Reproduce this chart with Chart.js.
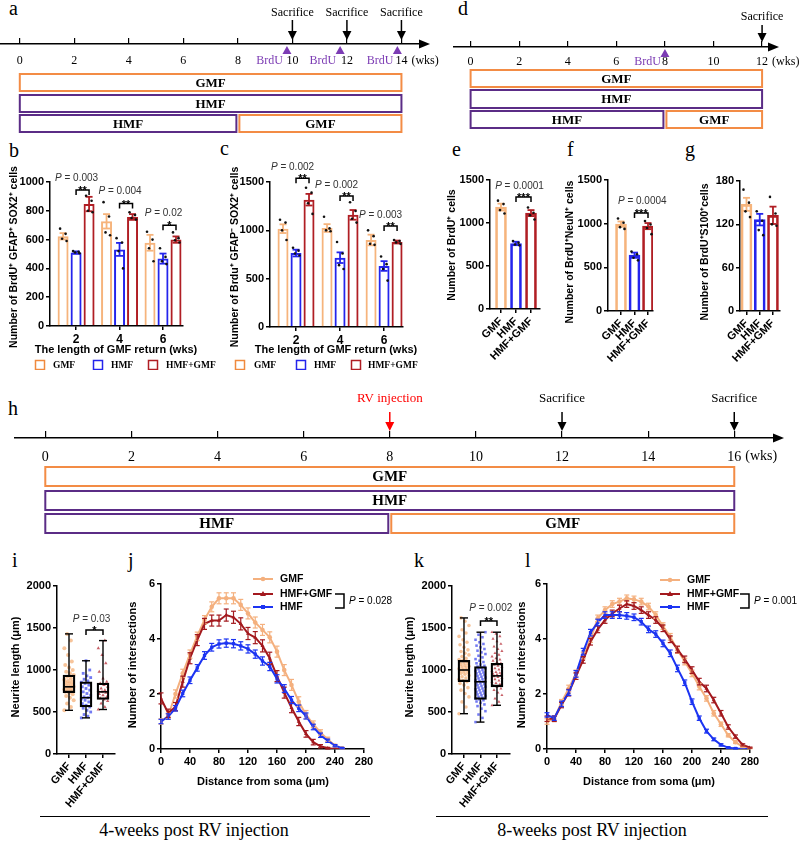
<!DOCTYPE html>
<html><head><meta charset="utf-8"><title>Figure</title>
<script src="https://cdn.jsdelivr.net/npm/chart.js@4.4.1/dist/chart.umd.min.js"></script>
<style>
html,body{margin:0;padding:0;background:#fff;}
body{position:relative;width:799px;height:842px;overflow:hidden;}
canvas{position:absolute;}
.pl{position:absolute;font-family:"Times New Roman","Liberation Serif",serif;font-size:20px;line-height:20px;color:#000;}
.cap{position:absolute;font-family:"Times New Roman","Liberation Serif",serif;font-size:18px;line-height:18px;color:#000;white-space:nowrap;transform:translateX(-50%);}
.hl{position:absolute;height:0;border-top:1.5px solid #000;}
</style></head><body>
<div class="pl" style="left:9px;top:-2px">a</div>
<div class="pl" style="left:458px;top:-2px">d</div>
<div class="pl" style="left:9px;top:140px">b</div>
<div class="pl" style="left:220px;top:138px">c</div>
<div class="pl" style="left:452px;top:139px">e</div>
<div class="pl" style="left:567px;top:139px">f</div>
<div class="pl" style="left:685px;top:139px">g</div>
<div class="pl" style="left:8px;top:398px">h</div>
<div class="pl" style="left:12px;top:550px">i</div>
<div class="pl" style="left:128px;top:550px">j</div>
<div class="pl" style="left:414px;top:550px">k</div>
<div class="pl" style="left:525px;top:550px">l</div>
<div class="hl" style="left:40px;top:816px;width:330px"></div>
<div class="hl" style="left:436px;top:816px;width:332px"></div>
<div class="cap" style="left:194px;top:821px">4-weeks post RV injection</div>
<div class="cap" style="left:592px;top:821px">8-weeks post RV injection</div>
<script>
// ======================= DATA =======================
const groups = ['GMF', 'HMF', 'HMF+GMF'];

// timelines (weeks)
const tlA_ticks = [0, 2, 4, 6, 8, 10, 12, 14];
const tlA_sacrifice = [10, 12, 14];
const tlA_brdu = [9.8, 11.75, 13.85];
const tlA_rows = [[['GMF', 0, 14]], [['HMF', 0, 14]], [['HMF', 0, 8], ['GMF', 8, 14]]];
const tlD_ticks = [0, 2, 4, 6, 8, 10, 12];
const tlD_sacrifice = [12];
const tlD_brdu = [8];
const tlD_rows = [[['GMF', 0, 12]], [['HMF', 0, 12]], [['HMF', 0, 8], ['GMF', 8, 12]]];
const tlH_ticks = [0, 2, 4, 6, 8, 10, 12, 14, 16];
const tlH_sacrifice = [12, 16];
const tlH_rv = [8];
const tlH_rows = [[['GMF', 0, 16]], [['HMF', 0, 16]], [['HMF', 0, 8], ['GMF', 8, 16]]];

// panel b
const bcWeeks = [2, 4, 6];
const bGMF = [623, 727, 578], bGMFsem = [22, 50, 55];
const bHMF = [510, 532, 468], bHMFsem = [8, 45, 35];
const bMIX = [847, 757, 600], bMIXsem = [50, 20, 22];
const bGMFdots = [[676, 640, 606, 590], [860, 760, 650, 630], [655, 600, 540, 450]];
const bHMFdots = [[520, 515, 510, 505], [610, 580, 520, 400], [540, 480, 450, 430]];
const bMIXdots = [[905, 870, 800, 790], [790, 770, 750, 740], [650, 610, 595, 580]];
const bSigY = [945, 850, 700], bSigP = ['0.003', '0.004', '0.02'], bSigS = ['**', '**', '*'];

// panel c
const cGMF = [1017, 1024, 900], cGMFsem = [45, 40, 55];
const cHMF = [765, 717, 631], cHMFsem = [35, 55, 50];
const cMIX = [1317, 1160, 879], cMIXsem = [60, 50, 15];
const cGMFdots = [[1110, 1080, 1000, 900], [1140, 1020, 1000, 990], [1000, 940, 860, 850]];
const cHMFdots = [[820, 790, 760, 740], [880, 760, 640, 600], [730, 650, 600, 480]];
const cMIXdots = [[1440, 1390, 1280, 1170], [1290, 1200, 1120, 1080], [900, 890, 875, 860]];
const cSigY = [1540, 1355, 1045], cSigP = ['0.002', '0.002', '0.003'], cSigS = ['**', '**', '**'];

// panels e, f, g (GMF, HMF, HMF+GMF)
const eVal = [1185, 762, 1115], eSem = [40, 20, 35];
const eDots = [[1260, 1220, 1150, 1110], [790, 770, 750, 740], [1180, 1120, 1090, 1040]];
const eSigY = 1302, eSigP = '0.0001', eSigS = '***';
const fVal = [995, 639, 972], fSem = [30, 30, 35];
const fDots = [[1060, 1010, 960, 940], [680, 650, 610, 580], [1030, 990, 950, 880]];
const fSigY = 1122, fSigP = '0.0004', fSigS = '***';
const gVal = [147.7, 126.5, 132.5], gSem = [9, 8, 12];
const gDots = [[168, 150, 138, 130], [138, 125, 112, 105], [158, 135, 120, 118]];

// panel i box stats [min, q1, median, q3, max]
const iStats = [[520, 730, 800, 940, 1430], [430, 560, 670, 860, 1110], [530, 650, 740, 845, 1350]];
const iGMFpts = [520, 560, 600, 640, 670, 690, 710, 730, 740, 750, 760, 770, 780, 790, 800, 805, 815, 825, 840, 850, 860, 870, 885, 900, 920, 940, 960, 980, 1000, 1030, 1060, 1100, 1180, 1260, 1350, 1430];
const iHMFpts = [430, 450, 470, 500, 520, 545, 560, 580, 600, 620, 640, 655, 670, 680, 700, 720, 740, 760, 780, 800, 820, 840, 855, 870, 890, 910, 930, 960, 1000, 1110];
const iMIXpts = [530, 560, 600, 630, 650, 665, 680, 700, 715, 730, 740, 750, 760, 780, 800, 820, 840, 860, 900, 980, 1080, 1180, 1260, 1350];
const iSigY = 1475, iSigP = '0.03', iSigS = '*';

// panel k
const kStats = [[480, 860, 1000, 1115, 1620], [380, 650, 860, 1040, 1450], [580, 800, 930, 1080, 1450]];
const kGMFpts = [480, 560, 620, 680, 720, 760, 790, 820, 840, 860, 875, 890, 905, 920, 935, 950, 960, 970, 980, 990, 1000, 1005, 1015, 1025, 1035, 1045, 1055, 1065, 1075, 1085, 1095, 1105, 1115, 1125, 1140, 1160, 1180, 1200, 1220, 1240, 1270, 1300, 1330, 1360, 1400, 1440, 1480, 1530, 1580, 1620];
const kHMFpts = [380, 430, 470, 510, 540, 570, 590, 610, 625, 640, 650, 660, 670, 680, 690, 700, 710, 720, 730, 740, 750, 760, 770, 780, 790, 800, 810, 820, 830, 840, 850, 860, 870, 880, 890, 900, 910, 920, 930, 940, 950, 960, 970, 980, 990, 1000, 1010, 1020, 1030, 1040, 1050, 1065, 1080, 1095, 1110, 1130, 1150, 1170, 1190, 1210, 1230, 1250, 1270, 1290, 1310, 1330, 1360, 1390, 1420, 1450];
const kMIXpts = [580, 620, 660, 700, 730, 760, 780, 800, 815, 830, 845, 860, 875, 890, 905, 915, 925, 935, 945, 955, 965, 975, 990, 1005, 1020, 1035, 1050, 1065, 1080, 1095, 1110, 1125, 1140, 1160, 1180, 1200, 1225, 1250, 1280, 1310, 1340, 1370, 1400, 1430, 1450];
const kSigY = 1583, kSigP = '0.002', kSigS = '**';

// panel j (Sholl, 4 weeks)
const jDist = [0, 10, 20, 30, 40, 50, 60, 70, 80, 90, 100, 110, 120, 130, 140, 150, 160, 170, 180, 190, 200, 210, 220, 230, 240, 250];
const jGMF = [1.0, 1.2, 2.0, 2.75, 3.45, 4.1, 4.7, 5.17, 5.48, 5.48, 5.48, 5.24, 4.93, 4.6, 4.33, 4.06, 3.54, 2.87, 2.33, 1.72, 1.25, 0.9, 0.6, 0.35, 0.12, 0.03];
const jGMFsem = [0.1, 0.1, 0.15, 0.15, 0.15, 0.15, 0.15, 0.18, 0.2, 0.2, 0.2, 0.2, 0.2, 0.2, 0.2, 0.2, 0.2, 0.2, 0.2, 0.18, 0.15, 0.12, 0.1, 0.08, 0.05, 0.03];
const jMIX = [1.84, 1.3, 1.54, 2.45, 3.3, 3.96, 4.55, 4.67, 4.67, 4.87, 4.79, 4.55, 4.2, 4.05, 3.75, 3.3, 2.65, 2.05, 1.5, 1.0, 0.55, 0.25, 0.1, 0.03, 0.0, 0.0];
const jMIXsem = [0.2, 0.15, 0.15, 0.2, 0.2, 0.2, 0.2, 0.2, 0.2, 0.22, 0.22, 0.22, 0.22, 0.22, 0.22, 0.22, 0.2, 0.2, 0.18, 0.15, 0.12, 0.1, 0.06, 0.03, 0.0, 0.0];
const jHMF = [1.0, 1.18, 1.48, 2.02, 2.5, 2.95, 3.4, 3.7, 3.82, 3.85, 3.83, 3.75, 3.64, 3.45, 3.2, 3.0, 2.55, 2.2, 1.78, 1.48, 1.2, 0.8, 0.5, 0.3, 0.12, 0.03];
const jHMFsem = [0.08, 0.1, 0.1, 0.12, 0.12, 0.12, 0.14, 0.14, 0.15, 0.15, 0.15, 0.15, 0.15, 0.15, 0.15, 0.15, 0.15, 0.14, 0.13, 0.12, 0.11, 0.1, 0.08, 0.06, 0.04, 0.02];

// panel l (Sholl, 8 weeks)
const lDist = [0, 10, 20, 30, 40, 50, 60, 70, 80, 90, 100, 110, 120, 130, 140, 150, 160, 170, 180, 190, 200, 210, 220, 230, 240, 250, 260, 270, 280];
const lGMF = [1.0, 1.1, 1.7, 2.2, 2.75, 3.4, 4.0, 4.75, 5.05, 5.27, 5.36, 5.48, 5.44, 5.36, 5.18, 4.87, 4.47, 4.08, 3.6, 3.18, 2.75, 2.27, 1.84, 1.3, 0.9, 0.5, 0.25, 0.08, 0.03];
const lGMFsem = [0.1, 0.1, 0.1, 0.12, 0.12, 0.12, 0.12, 0.12, 0.12, 0.12, 0.12, 0.12, 0.12, 0.12, 0.12, 0.12, 0.12, 0.12, 0.12, 0.12, 0.12, 0.12, 0.1, 0.1, 0.08, 0.06, 0.05, 0.03, 0.02];
const lMIX = [1.1, 1.1, 1.6, 2.05, 2.65, 3.24, 3.9, 4.35, 4.69, 4.93, 5.11, 5.27, 5.2, 5.05, 4.87, 4.69, 4.39, 3.99, 3.62, 3.26, 2.87, 2.45, 2.2, 1.78, 1.3, 0.8, 0.45, 0.15, 0.05];
const lMIXsem = [0.1, 0.1, 0.1, 0.12, 0.12, 0.12, 0.12, 0.12, 0.12, 0.12, 0.12, 0.12, 0.12, 0.12, 0.12, 0.12, 0.12, 0.12, 0.12, 0.12, 0.12, 0.12, 0.12, 0.1, 0.1, 0.08, 0.06, 0.04, 0.02];
const lHMF = [1.24, 1.12, 1.64, 2.05, 2.73, 3.54, 4.23, 4.6, 4.87, 4.87, 4.87, 4.84, 4.79, 4.63, 4.35, 4.18, 3.84, 3.48, 2.93, 2.41, 1.72, 1.12, 0.65, 0.35, 0.15, 0.05, 0.02, 0.0, 0.0];
const lHMFsem = [0.08, 0.08, 0.1, 0.1, 0.12, 0.12, 0.12, 0.12, 0.12, 0.12, 0.12, 0.12, 0.12, 0.12, 0.12, 0.12, 0.12, 0.12, 0.12, 0.1, 0.1, 0.08, 0.07, 0.05, 0.04, 0.03, 0.02, 0.0, 0.0];

// ======================= STYLE =======================
const SANS = 'Arial, "Liberation Sans", Helvetica, sans-serif';
const SERIF = '"Times New Roman", "Liberation Serif", Times, serif';
const C_GMF = '#F6B47C', C_HMF = '#2424EC', C_MIX = '#B01E24';
const C_LG_GMF = '#F08A3E';
const C_TLG = '#F38C45', C_TLH = '#5B2C86', C_BRDU = '#7C3CB4';
const C_LINE_GMF = '#F4B07E', C_LINE_MIX = '#A3191E', C_LINE_HMF = '#1C34F2';
Chart.defaults.font.family = SANS;

// ======================= HELPERS =======================
function mk(l, t, w, h) {
  const c = document.createElement('canvas');
  c.width = w; c.height = h;
  c.style.left = l + 'px'; c.style.top = t + 'px';
  c.style.width = w + 'px'; c.style.height = h + 'px';
  document.body.appendChild(c);
  return c;
}
function txt(ctx, s, x, y, font, color, align, rot, base) {
  ctx.save(); ctx.translate(x, y); if (rot) ctx.rotate(rot);
  ctx.font = font; ctx.fillStyle = color || '#000';
  ctx.textAlign = align || 'center'; ctx.textBaseline = base || 'middle';
  ctx.fillText(s, 0, 0); ctx.restore();
}
function pTxt(ctx, val, cx, cy, size, color, align) {
  const fi = 'italic ' + size + 'px ' + SANS, fn = size + 'px ' + SANS, rest = ' = ' + val;
  ctx.save();
  ctx.font = fi; const w1 = ctx.measureText('P').width;
  ctx.font = fn; const w2 = ctx.measureText(rest).width;
  const x0 = align === 'left' ? cx : cx - (w1 + w2) / 2;
  txt(ctx, 'P', x0, cy, fi, color || '#333', 'left');
  txt(ctx, rest, x0 + w1, cy, fn, color || '#333', 'left');
  ctx.restore();
}
function line(ctx, pts, c, w) {
  ctx.save(); ctx.strokeStyle = c; ctx.lineWidth = w; ctx.beginPath();
  ctx.moveTo(pts[0][0], pts[0][1]);
  for (let i = 1; i < pts.length; i++) ctx.lineTo(pts[i][0], pts[i][1]);
  ctx.stroke(); ctx.restore();
}
function arrowDown(ctx, x, y1, y2, c) {
  ctx.save(); ctx.strokeStyle = c; ctx.fillStyle = c; ctx.lineWidth = 1.5;
  ctx.beginPath(); ctx.moveTo(x, y1); ctx.lineTo(x, y2 - 7); ctx.stroke();
  ctx.beginPath(); ctx.moveTo(x - 4.5, y2 - 9); ctx.lineTo(x + 4.5, y2 - 9); ctx.lineTo(x, y2); ctx.closePath(); ctx.fill();
  ctx.restore();
}
function bracket(ctx, x1, x2, y, stars, p, pdx, pdy) {
  line(ctx, [[x1, y + 5], [x1, y], [x2, y], [x2, y + 5]], '#000', 1.5);
  txt(ctx, stars, (x1 + x2) / 2, y + 4, 'bold 11px ' + SANS, '#000', 'center', 0, 'alphabetic');
  if (p) pTxt(ctx, p, (x1 + x2) / 2 + pdx, y + pdy, 10);
}
function yLin(x1, min, max, step) {
  return { type: 'linear', position: 'left', bounds: 'data', offset: false, min, max, afterFit: s => { s.width = x1; },
    ticks: { stepSize: step, font: { family: SANS, size: 11, weight: 'bold' }, color: '#000', padding: 2, callback: v => String(v) },
    grid: { drawOnChartArea: false, drawTicks: true, tickLength: 4, color: '#000', lineWidth: 1.5, offset: false },
    border: { display: true, color: '#000', width: 1.5 } };
}
function xLin(H, y2, min, max, ticks, labels, rot, fs) {
  return { type: 'linear', position: 'bottom', bounds: 'data', offset: false, min, max, afterFit: s => { s.height = H - y2; },
    afterBuildTicks: s => { s.ticks = ticks.map(v => ({ value: v })); },
    ticks: { autoSkip: false, minRotation: rot, maxRotation: rot, font: { family: SANS, size: fs, weight: 'bold' }, color: '#000', padding: 2,
      callback: (v, i) => labels[i] },
    grid: { drawOnChartArea: false, drawTicks: true, tickLength: 4, color: '#000', lineWidth: 1.5, offset: false },
    border: { display: true, color: '#000', width: 1.5 } };
}
function baseOpts(W, H, x1, y1, x2, y2, scales) {
  return { animation: false, responsive: false, events: [],
    layout: { padding: { left: 0, top: y1, right: W - x2, bottom: 0 } },
    plugins: { legend: { display: false }, tooltip: { enabled: false }, title: { display: false } }, scales };
}

// ======================= TIMELINES =======================
function timeline(o) {
  const c = mk(o.l, o.t, o.W, o.H);
  const min = -(o.zero - o.x1) / o.pxw, max = (o.x2 - o.zero) / o.pxw;
  new Chart(c, { type: 'scatter', data: { datasets: [] },
    options: { animation: false, responsive: false, events: [],
      layout: { padding: { left: o.x1, right: o.W - o.x2, top: o.axisY - o.tick, bottom: 0 } },
      plugins: { legend: { display: false }, tooltip: { enabled: false } },
      scales: {
        x: { type: 'linear', bounds: 'data', offset: false, min, max, afterFit: s => { s.height = o.H - o.axisY; },
          afterBuildTicks: s => { s.ticks = o.ticks.map(v => ({ value: v })); },
          ticks: { autoSkip: false, maxRotation: 0, minRotation: 0, font: { family: SERIF, size: o.fs }, color: '#000', padding: o.lpad },
          grid: { drawOnChartArea: true, drawTicks: false, color: '#000', lineWidth: 1.2 },
          border: { display: true, color: '#000', width: 1.5 } },
        y: { display: false, min: 0, max: 1 } } },
    plugins: [{ id: 'tl', afterDraw(ch) {
      const ctx = ch.ctx, xs = ch.scales.x, X = v => xs.getPixelForValue(v), ay = o.axisY;
      const ly = ay + o.lpad + o.fs * 0.55;
      ctx.save();
      ctx.fillStyle = '#000'; ctx.beginPath();
      ctx.moveTo(xs.right - 1, ay - 4.5); ctx.lineTo(xs.right + 10, ay); ctx.lineTo(xs.right - 1, ay + 4.5); ctx.closePath(); ctx.fill();
      const last = o.ticks[o.ticks.length - 1];
      ctx.font = o.fs + 'px ' + SERIF; const lw = ctx.measureText(String(last)).width;
      txt(ctx, '(wks)', X(last) + lw / 2 + 4, ly, o.fs + 'px ' + SERIF, '#000', 'left');
      (o.sac || []).forEach(w => { const x = X(w); txt(ctx, 'Sacrifice', x, o.sacY, o.sfs + 'px ' + SERIF, '#000'); arrowDown(ctx, x, o.arY1, o.arY2, '#000'); });
      (o.rv || []).forEach(w => { const x = X(w); txt(ctx, 'RV injection', x, o.sacY, o.sfs + 'px ' + SERIF, '#FF0000'); arrowDown(ctx, x, o.arY1, o.arY2, '#FF0000'); });
      (o.brdu || []).forEach(w => {
        const x = X(w); ctx.fillStyle = C_BRDU; ctx.beginPath();
        ctx.moveTo(x, ay + 2); ctx.lineTo(x - 4.5, ay + 10); ctx.lineTo(x + 4.5, ay + 10); ctx.closePath(); ctx.fill();
        txt(ctx, 'BrdU', x - 4, ly, o.fs + 'px ' + SERIF, C_BRDU, 'right');
      });
      o.rows.forEach((row, ri) => {
        const y1 = o.rowY[ri][0], y2 = o.rowY[ri][1], end = row[row.length - 1][2];
        row.forEach(sg => {
          const xa = X(sg[1]) + (sg[1] > 0 ? 1.5 : 0), xb = X(sg[2]) - (sg[2] < end ? 1.5 : 0);
          ctx.strokeStyle = sg[0] === 'GMF' ? C_TLG : C_TLH; ctx.lineWidth = 2;
          ctx.strokeRect(xa, y1, xb - xa, y2 - y1);
          txt(ctx, sg[0], (xa + xb) / 2, (y1 + y2) / 2 + 1, 'bold ' + o.bfs + 'px ' + SERIF, '#000');
        });
      });
      ctx.restore();
    } }] });
}
timeline({ l: 0, t: 0, W: 440, H: 140, axisY: 44, x1: 0, x2: 420, zero: 19.8, pxw: 27.26, tick: 6, lpad: 10, fs: 12, sfs: 12, bfs: 13,
  sacY: 13, arY1: 20, arY2: 40, ticks: tlA_ticks, sac: tlA_sacrifice, brdu: tlA_brdu, rows: tlA_rows, rowY: [[74, 91], [95, 112], [115, 132]] });
timeline({ l: 440, t: 0, W: 359, H: 140, axisY: 47, x1: 14, x2: 329, zero: 30.6, pxw: 24.29, tick: 6, lpad: 8, fs: 12, sfs: 12, bfs: 13,
  sacY: 17, arY1: 25, arY2: 42, ticks: tlD_ticks, sac: tlD_sacrifice, brdu: tlD_brdu, rows: tlD_rows, rowY: [[70, 87], [90, 108], [111, 128]] });
timeline({ l: 0, t: 380, W: 799, H: 160, axisY: 58, x1: 15, x2: 774, zero: 45.3, pxw: 43.06, tick: 7, lpad: 11, fs: 14, sfs: 13, bfs: 15,
  sacY: 19, arY1: 32, arY2: 51, ticks: tlH_ticks, sac: tlH_sacrifice, rv: tlH_rv, rows: tlH_rows, rowY: [[87, 106], [111, 130], [134, 153]] });

// ======================= BAR PANELS =======================
function barPanel(o) {
  const c = mk(o.l, o.t, o.W, o.H);
  const datasets = o.series.map(s => {
    const d = { type: 'bar', data: s.xs.map((x, i) => ({ x, y: s.v[i] })), backgroundColor: 'rgba(255,255,255,0)',
      borderColor: s.c, borderWidth: 2, borderSkipped: 'start', grouped: o.grouped };
    if (o.thick) d.barThickness = o.thick; else { d.categoryPercentage = o.cat; d.barPercentage = o.bar; }
    return d;
  });
  new Chart(c, { type: 'bar', data: { datasets },
    options: baseOpts(o.W, o.H, o.x1, o.y1, o.x2, o.y2, {
      x: xLin(o.H, o.y2, o.xmin, o.xmax, o.ticks, o.labels, o.rot, o.xfs),
      y: yLin(o.x1, 0, o.ymax, o.ystep) }),
    plugins: [{ id: 'bd', afterDatasetsDraw(ch) {
      const ctx = ch.ctx, Y = v => ch.scales.y.getPixelForValue(v);
      const jit = [-3, 2.5, -1, 3.5, 0.5, -2.5];
      o.series.forEach((s, di) => {
        ch.getDatasetMeta(di).data.forEach((el, j) => {
          const x = el.x, v = s.v[j], e = s.sem[j];
          const yt = Y(v + e), yb = Y(v - e);
          line(ctx, [[x, yt], [x, yb]], s.c, 1.8);
          line(ctx, [[x - 3.5, yt], [x + 3.5, yt]], s.c, 1.8);
          line(ctx, [[x - 3.5, yb], [x + 3.5, yb]], s.c, 1.8);
          ctx.save(); ctx.fillStyle = '#111';
          s.dots[j].forEach((d, k) => { ctx.beginPath(); ctx.arc(x + jit[k % 6], Y(d), 1.3, 0, Math.PI * 2); ctx.fill(); });
          ctx.restore();
        });
      });
      (o.sig || []).forEach(sg => {
        const x1 = ch.getDatasetMeta(sg[0]).data[sg[1]].x, x2 = ch.getDatasetMeta(sg[2]).data[sg[3]].x;
        bracket(ctx, x1, x2, Y(sg[4]), sg[6], sg[5], o.pdx, o.pdy);
      });
    }, afterDraw(ch) {
      const ctx = ch.ctx;
      txt(ctx, o.ytitle, o.yt[0], o.yt[1], 'bold 10.5px ' + SANS, '#000', 'center', -Math.PI / 2);
      if (o.xtitle) txt(ctx, o.xtitle, o.xt[0], o.xt[1], 'bold 11px ' + SANS, '#000');
      (o.legend || []).forEach(it => {
        ctx.save(); ctx.strokeStyle = it[0]; ctx.lineWidth = 1.5; ctx.strokeRect(it[2] - 4.5, o.legY - 4.5, 9, 9); ctx.restore();
        txt(ctx, it[1], it[3], o.legY + 0.5, 'bold 9.5px ' + SERIF, '#000', 'left');
      });
    } }] });
}

// b
barPanel({ l: 0, t: 165, W: 222, H: 205, x1: 50, y1: 17, x2: 183, y2: 161, xmin: 0.80, xmax: 6.92, ticks: bcWeeks, labels: bcWeeks.map(String), rot: 0, xfs: 12,
  ymax: 1000, ystep: 200, grouped: true, cat: 0.897, bar: 0.846,
  series: [{ xs: bcWeeks, v: bGMF, sem: bGMFsem, dots: bGMFdots, c: C_GMF }, { xs: bcWeeks, v: bHMF, sem: bHMFsem, dots: bHMFdots, c: C_HMF }, { xs: bcWeeks, v: bMIX, sem: bMIXsem, dots: bMIXdots, c: C_MIX }],
  sig: bcWeeks.map((w, j) => [1, j, 2, j, bSigY[j], bSigP[j], bSigS[j]]), pdx: -6, pdy: -12,
  ytitle: 'Number of BrdU\u207A GFAP\u207A SOX2\u207A cells', yt: [14, 92], xtitle: 'The length of GMF return (wks)', xt: [116, 185],
  legY: 200, legend: [[C_LG_GMF, groups[0], 40, 53], [C_HMF, groups[1], 98, 111], [C_MIX, groups[2], 153, 166]] });
// c
barPanel({ l: 222, t: 155, W: 200, H: 215, x1: 48, y1: 27, x2: 181, y2: 172, xmin: 0.818, xmax: 6.86, ticks: bcWeeks, labels: bcWeeks.map(String), rot: 0, xfs: 12,
  ymax: 1500, ystep: 500, grouped: true, cat: 0.886, bar: 0.846,
  series: [{ xs: bcWeeks, v: cGMF, sem: cGMFsem, dots: cGMFdots, c: C_GMF }, { xs: bcWeeks, v: cHMF, sem: cHMFsem, dots: cHMFdots, c: C_HMF }, { xs: bcWeeks, v: cMIX, sem: cMIXsem, dots: cMIXdots, c: C_MIX }],
  sig: bcWeeks.map((w, j) => [1, j, 2, j, cSigY[j], cSigP[j], cSigS[j]]), pdx: -10, pdy: -11,
  ytitle: 'Number of Brdu\u207A GFAP\u207B SOX2\u207A cells', yt: [13, 102], xtitle: 'The length of GMF return (wks)', xt: [114, 195],
  legY: 210, legend: [[C_LG_GMF, groups[0], 18, 32], [C_HMF, groups[1], 79, 92], [C_MIX, groups[2], 134, 146]] });

function singleSeries(vals, sems, dots) {
  const cols = [C_GMF, C_HMF, C_MIX];
  return vals.map((v, i) => ({ xs: [i + 1], v: [v], sem: [sems[i]], dots: [dots[i]], c: cols[i] }));
}
// e
barPanel({ l: 440, t: 165, W: 105, H: 200, x1: 50, y1: 15, x2: 100, y2: 144, xmin: 0.267, xmax: 3.6, ticks: [1, 2, 3], labels: groups, rot: 45, xfs: 11,
  ymax: 1500, ystep: 500, grouped: false, thick: 11, series: singleSeries(eVal, eSem, eDots),
  sig: [[1, 0, 2, 0, eSigY, eSigP, eSigS]], pdx: -4, pdy: -11, ytitle: 'Number of BrdU\u207A cells', yt: [12, 80] });
// f
barPanel({ l: 558, t: 165, W: 116, H: 200, x1: 50, y1: 15, x2: 95, y2: 146, xmin: 0.037, xmax: 3.37, ticks: [1, 2, 3], labels: groups, rot: 45, xfs: 11,
  ymax: 1500, ystep: 500, grouped: false, thick: 11, series: singleSeries(fVal, fSem, fDots),
  sig: [[1, 0, 2, 0, fSigY, fSigP, fSigS]], pdx: 1, pdy: -12, ytitle: 'Number of BrdU\u207ANeuN\u207A cells', yt: [12, 87] });
// g
barPanel({ l: 688, t: 165, W: 111, H: 200, x1: 52, y1: 16, x2: 92, y2: 146, xmin: 0.51, xmax: 3.53, ticks: [1, 2, 3], labels: groups, rot: 45, xfs: 11,
  ymax: 180, ystep: 60, grouped: false, thick: 11, series: singleSeries(gVal, gSem, gDots),
  ytitle: 'Number of BrdU\u207AS100\u207Acells', yt: [17, 87] });

// ======================= BOX PANELS =======================
function boxPanel(o) {
  const c = mk(o.l, o.t, o.W, o.H);
  const ptCols = ['rgba(244,176,120,0.75)', 'rgba(40,50,235,0.65)', 'rgba(176,30,40,0.7)'];
  const shapes = ['circle', 'rect', 'triangle'];
  const jit = k => (((k * 7) % 11) / 10 - 0.5);
  const ds = [{ type: 'bar', order: 0, data: o.stats.map((s, i) => ({ x: i + 1, y: [s[1], s[3]] })), backgroundColor: 'rgba(255,255,255,0)',
    borderColor: '#000', borderWidth: 1.6, borderSkipped: false, grouped: false, barThickness: o.bw }];
  o.pts.forEach((arr, g) => ds.push({ type: 'scatter', order: 1, data: arr.map((v, k) => ({ x: g + 1 + jit(k) * o.jw, y: v })),
    pointStyle: shapes[g], pointRadius: o.pr, backgroundColor: ptCols[g], borderColor: ptCols[g], borderWidth: 0 }));
  new Chart(c, { type: 'bar', data: { datasets: ds },
    options: baseOpts(o.W, o.H, o.x1, o.y1, o.x2, o.y2, {
      x: xLin(o.H, o.y2, o.xmin, o.xmax, [1, 2, 3], groups, 50, 11),
      y: yLin(o.x1, 0, 2000, 500) }),
    plugins: [{ id: 'bx', afterDatasetsDraw(ch) {
      const ctx = ch.ctx, Y = v => ch.scales.y.getPixelForValue(v), X = v => ch.scales.x.getPixelForValue(v);
      o.stats.forEach((s, g) => {
        const x = X(g + 1), hw = o.bw / 2;
        line(ctx, [[x, Y(s[0])], [x, Y(s[1])]], '#000', 1.4);
        line(ctx, [[x, Y(s[3])], [x, Y(s[4])]], '#000', 1.4);
        line(ctx, [[x - 4, Y(s[0])], [x + 4, Y(s[0])]], '#000', 1.4);
        line(ctx, [[x - 4, Y(s[4])], [x + 4, Y(s[4])]], '#000', 1.4);
        line(ctx, [[x - hw, Y(s[2])], [x + hw, Y(s[2])]], '#000', 1.6);
      });
      const x1 = X(2), x2 = X(3);
      bracket(ctx, x1, x2, Y(o.sigY), o.sigS, o.sigP, o.pdx, o.pdy);
    }, afterDraw(ch) {
      txt(ch.ctx, 'Neurite length (\u03BCm)', o.yt[0], o.yt[1], 'bold 11px ' + SANS, '#000', 'center', -Math.PI / 2);
    } }] });
}
boxPanel({ l: 0, t: 560, W: 125, H: 270, x1: 57, y1: 26, x2: 115, y2: 194, xmin: 0.294, xmax: 3.706, bw: 12, jw: 0.55, pr: 2,
  stats: iStats, pts: [iGMFpts, iHMFpts, iMIXpts], sigY: iSigY, sigP: iSigP, sigS: iSigS, pdx: -3, pdy: -11, yt: [16, 107] });
boxPanel({ l: 395, t: 560, W: 125, H: 270, x1: 57, y1: 26, x2: 115, y2: 194, xmin: 0.273, xmax: 3.79, bw: 12, jw: 0.6, pr: 1.8,
  stats: kStats, pts: [kGMFpts, kHMFpts, kMIXpts], sigY: kSigY, sigP: kSigP, sigS: kSigS, pdx: 2, pdy: -13, yt: [15, 107] });

// ======================= SHOLL LINE PANELS =======================
function linePanel(o) {
  const c = mk(o.l, o.t, o.W, o.H);
  const ds = o.series.map(s => ({ type: 'line', order: s.order, data: o.xs.map((x, i) => ({ x, y: s.v[i] })), borderColor: s.c, backgroundColor: s.c,
    borderWidth: 2, pointStyle: s.ps, pointRadius: 2.3, pointBorderWidth: 0, tension: 0, fill: false }));
  new Chart(c, { type: 'line', data: { datasets: ds },
    options: baseOpts(o.W, o.H, o.x1, o.y1, o.x2, o.y2, {
      x: xLin(o.H, o.y2, 0, 280, [0, 40, 80, 120, 160, 200, 240, 280], ['0', '40', '80', '120', '160', '200', '240', '280'], 0, 11),
      y: yLin(o.x1, 0, 6, 2) }),
    plugins: [{ id: 'ln', afterDatasetsDraw(ch) {
      const ctx = ch.ctx, Y = v => ch.scales.y.getPixelForValue(v), X = v => ch.scales.x.getPixelForValue(v);
      o.series.forEach(s => {
        o.xs.forEach((x, i) => {
          const e = s.sem[i]; if (!e) return;
          const px = X(x), yt = Y(s.v[i] + e), yb = Y(Math.max(0, s.v[i] - e));
          line(ctx, [[px, yt], [px, yb]], s.c, 1.2);
          line(ctx, [[px - 2.5, yt], [px + 2.5, yt]], s.c, 1.2);
          line(ctx, [[px - 2.5, yb], [px + 2.5, yb]], s.c, 1.2);
        });
      });
    }, afterDraw(ch) {
      const ctx = ch.ctx;
      o.legendOrder.forEach((si, k) => {
        const s = o.series[si], y = o.legYs[k];
        line(ctx, [[o.lx1, y], [o.lx2, y]], s.c, 2);
        ctx.save(); ctx.fillStyle = s.c; ctx.beginPath();
        const mx = (o.lx1 + o.lx2) / 2;
        if (s.ps === 'triangle') { ctx.moveTo(mx, y - 3); ctx.lineTo(mx - 3, y + 2); ctx.lineTo(mx + 3, y + 2); ctx.closePath(); }
        else if (s.ps === 'rect') { ctx.rect(mx - 2, y - 2, 4, 4); }
        else { ctx.arc(mx, y, 2.3, 0, Math.PI * 2); }
        ctx.fill(); ctx.restore();
        txt(ctx, groups[s.g], o.tx, y, 'bold 10.5px ' + SANS, '#000', 'left');
      });
      line(ctx, [[o.bx1, o.legYs[1]], [o.bx2, o.legYs[1]], [o.bx2, o.legYs[2] + 1], [o.bx1, o.legYs[2] + 1]], '#000', 1.5);
      pTxt(ctx, o.p, o.bx2 + 5, (o.legYs[1] + o.legYs[2]) / 2 + 1, 10, '#000', 'left');
      txt(ctx, 'Number of intersections', o.yt[0], o.yt[1], 'bold 11px ' + SANS, '#000', 'center', -Math.PI / 2);
      txt(ctx, 'Distance from soma (\u03BCm)', o.xt[0], o.xt[1], 'bold 11px ' + SANS, '#000');
    } }] });
}
linePanel({ l: 120, t: 560, W: 280, H: 240, x1: 41, y1: 24, x2: 244, y2: 189, xs: jDist,
  series: [{ g: 0, v: jGMF, sem: jGMFsem, c: C_LINE_GMF, ps: 'circle', order: 3 }, { g: 2, v: jMIX, sem: jMIXsem, c: C_LINE_MIX, ps: 'triangle', order: 2 }, { g: 1, v: jHMF, sem: jHMFsem, c: C_LINE_HMF, ps: 'rect', order: 1 }],
  legendOrder: [0, 1, 2], legYs: [19, 34, 47], lx1: 133, lx2: 153, tx: 160, bx1: 215, bx2: 224, p: '0.028', yt: [13, 105], xt: [143, 222] });
linePanel({ l: 506, t: 560, W: 293, H: 240, x1: 41, y1: 24, x2: 244, y2: 189, xs: lDist,
  series: [{ g: 0, v: lGMF, sem: lGMFsem, c: C_LINE_GMF, ps: 'circle', order: 3 }, { g: 2, v: lMIX, sem: lMIXsem, c: C_LINE_MIX, ps: 'triangle', order: 2 }, { g: 1, v: lHMF, sem: lHMFsem, c: C_LINE_HMF, ps: 'rect', order: 1 }],
  legendOrder: [0, 1, 2], legYs: [20, 34, 47], lx1: 154, lx2: 174, tx: 181, bx1: 234, bx2: 243, p: '0.001', yt: [16, 105], xt: [143, 222] });
</script>
</body></html>
